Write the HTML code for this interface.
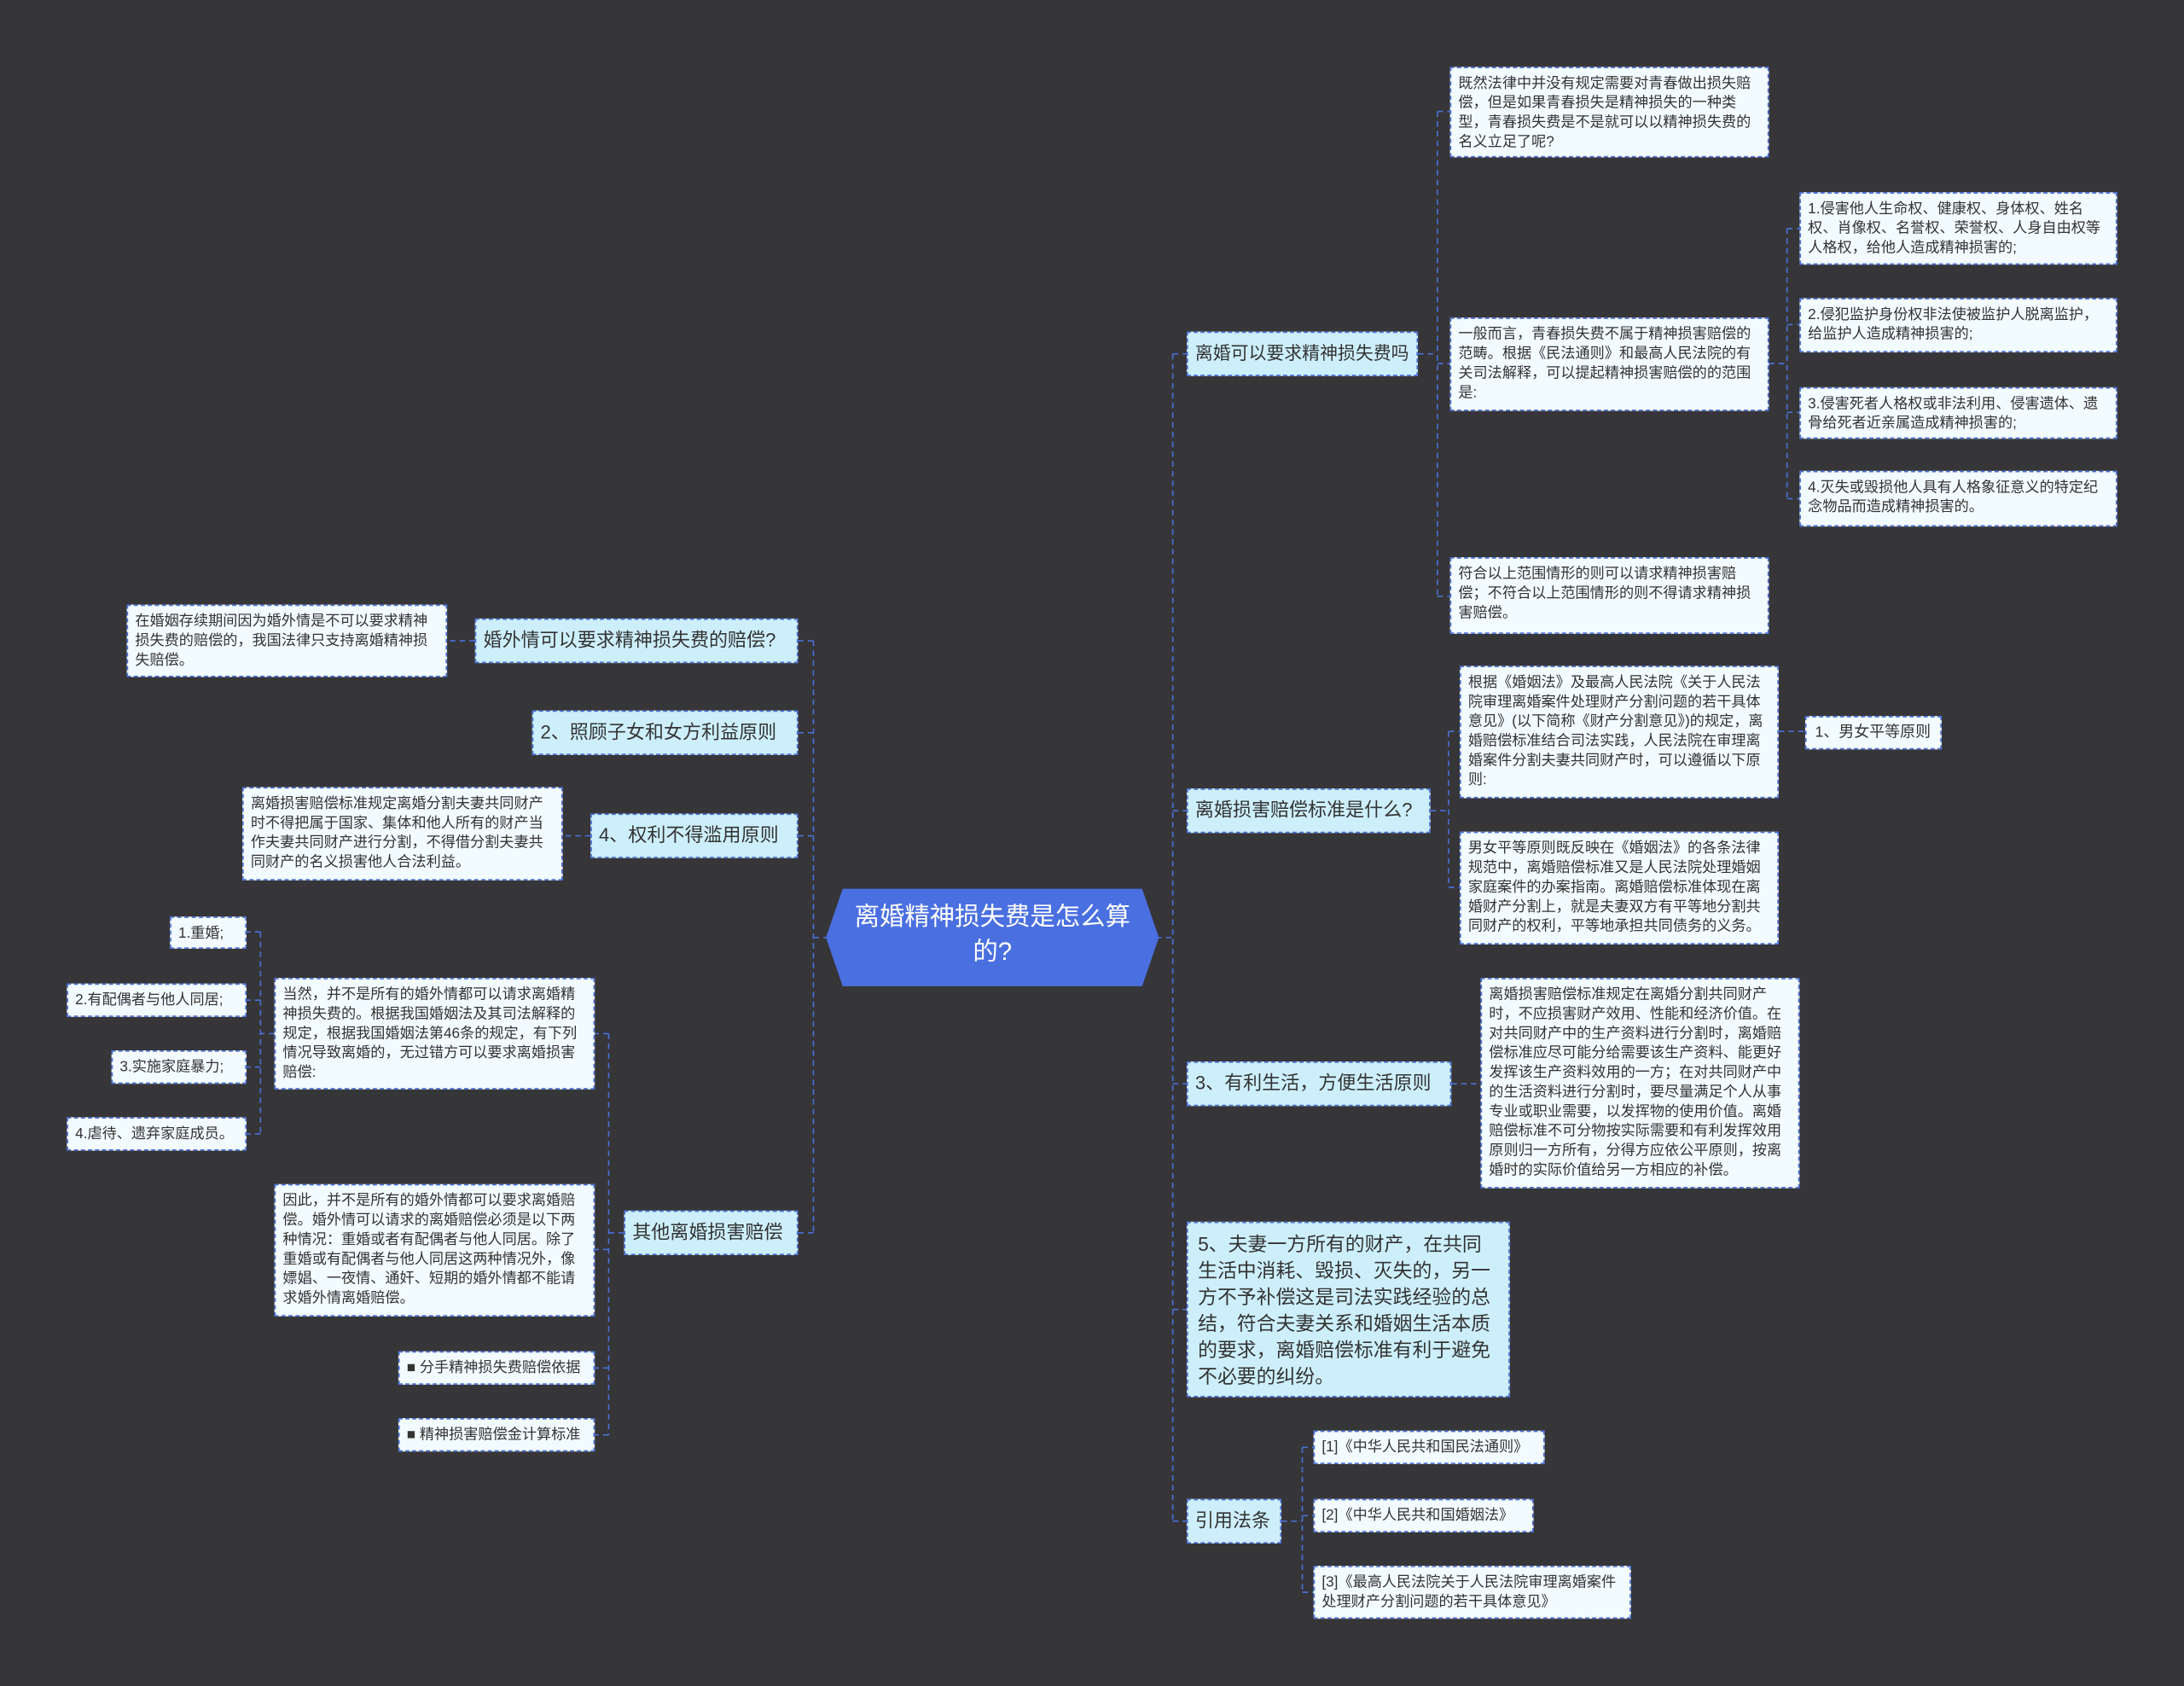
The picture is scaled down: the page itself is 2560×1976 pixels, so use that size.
<!DOCTYPE html>
<html><head><meta charset="utf-8"><style>
html,body{margin:0;padding:0;background:#363538;}
body{width:2560px;height:1976px;overflow:hidden;}
#w{position:absolute;left:0;top:0;width:1568px;height:1210px;transform:scale(1.632653);transform-origin:0 0;font-family:"Liberation Sans","Noto Sans CJK SC",sans-serif;}
.b{position:absolute;box-sizing:border-box;border:1px dashed #4a6fd8;color:#333;}
.l1{background:#cdeffb;font-size:13.5px;line-height:18px;padding:6px 5px;white-space:nowrap;overflow:hidden;}
.lf{background:#f2fbff;font-size:10.5px;line-height:14px;padding:4px 5px;}
svg{position:absolute;left:0;top:0;}
</style></head><body><div id="w">
<svg width="1568" height="1210"><g fill="none" stroke="#4a6fd8" stroke-width="1" stroke-dasharray="4,3">
<path d="M830 673H842M842 254V1092M842 254H852M842 582H852M842 778H852M842 940H852M842 1092H852"/>
<path d="M1018 254H1032M1032 80V428M1032 80H1041M1032 261H1041M1032 428H1041"/>
<path d="M1270 261H1283M1283 164V358M1283 164H1292M1283 233H1292M1283 296H1292M1283 358H1292"/>
<path d="M1027 582H1040M1040 525V637M1040 525H1048M1040 637H1048M1277 525H1296"/>
<path d="M1042 778H1063"/>
<path d="M920 1092H935M935 1039V1143M935 1039H943M935 1088H943M935 1143H943"/>
<path d="M595 673H584M584 460V885M584 460H573M584 526H573M584 600H573M584 885H573"/>
<path d="M341 460H321M424 600H404"/>
<path d="M448 885H437M437 742V1030M437 742H427M437 897H427M437 982H427M437 1030H427"/>
<path d="M197 742H187M187 669V814M187 669H177M187 718H177M187 766H177M187 814H177"/>
</g>
<polygon points="605,638 820,638 832,673 820,708 605,708 593,673" fill="#4a6fe0"/>
</svg>
<div style="position:absolute;left:600px;top:646px;width:225px;text-align:center;color:#fff;font-size:18px;line-height:25px;">离婚精神损失费是怎么算的?</div>

<div class="b l1" style="left:852px;top:238px;width:166px;height:32px;font-size:12.8px;">离婚可以要求精神损失费吗</div>
<div class="b l1" style="left:852px;top:566px;width:175px;height:32px;">离婚损害赔偿标准是什么?</div>
<div class="b l1" style="left:852px;top:762px;width:190px;height:32px;">3、有利生活，方便生活原则</div>
<div class="b l1" style="left:852px;top:877px;width:232px;height:126px;white-space:normal;line-height:19px;font-size:14px;padding:6px 7px;">5、夫妻一方所有的财产，在共同生活中消耗、毁损、灭失的，另一方不予补偿这是司法实践经验的总结，符合夫妻关系和婚姻生活本质的要求，离婚赔偿标准有利于避免不必要的纠纷。</div>
<div class="b l1" style="left:852px;top:1076px;width:68px;height:32px;">引用法条</div>

<div class="b lf" style="left:1041px;top:48px;width:229px;height:65px;">既然法律中并没有规定需要对青春做出损失赔偿，但是如果青春损失是精神损失的一种类型，青春损失费是不是就可以以精神损失费的名义立足了呢?</div>
<div class="b lf" style="left:1041px;top:228px;width:229px;height:67px;">一般而言，青春损失费不属于精神损害赔偿的范畴。根据《民法通则》和最高人民法院的有关司法解释，可以提起精神损害赔偿的的范围是:</div>
<div class="b lf" style="left:1041px;top:400px;width:229px;height:55px;">符合以上范围情形的则可以请求精神损害赔偿；不符合以上范围情形的则不得请求精神损害赔偿。</div>
<div class="b lf" style="left:1292px;top:138px;width:228px;height:52px;">1.侵害他人生命权、健康权、身体权、姓名权、肖像权、名誉权、荣誉权、人身自由权等人格权，给他人造成精神损害的;</div>
<div class="b lf" style="left:1292px;top:214px;width:228px;height:39px;">2.侵犯监护身份权非法使被监护人脱离监护，给监护人造成精神损害的;</div>
<div class="b lf" style="left:1292px;top:278px;width:228px;height:37px;">3.侵害死者人格权或非法利用、侵害遗体、遗骨给死者近亲属造成精神损害的;</div>
<div class="b lf" style="left:1292px;top:338px;width:228px;height:40px;">4.灭失或毁损他人具有人格象征意义的特定纪念物品而造成精神损害的。</div>
<div class="b lf" style="left:1048px;top:478px;width:229px;height:95px;">根据《婚姻法》及最高人民法院《关于人民法院审理离婚案件处理财产分割问题的若干具体意见》(以下简称《财产分割意见》)的规定，离婚赔偿标准结合司法实践，人民法院在审理离婚案件分割夫妻共同财产时，可以遵循以下原则:</div>
<div class="b lf" style="left:1048px;top:597px;width:229px;height:81px;">男女平等原则既反映在《婚姻法》的各条法律规范中，离婚赔偿标准又是人民法院处理婚姻家庭案件的办案指南。离婚赔偿标准体现在离婚财产分割上，就是夫妻双方有平等地分割共同财产的权利，平等地承担共同债务的义务。</div>
<div class="b lf" style="left:1296px;top:514px;width:98px;height:24px;font-size:11px;padding:4px 6px;">1、男女平等原则</div>
<div class="b lf" style="left:1063px;top:702px;width:229px;height:151px;">离婚损害赔偿标准规定在离婚分割共同财产时，不应损害财产效用、性能和经济价值。在对共同财产中的生产资料进行分割时，离婚赔偿标准应尽可能分给需要该生产资料、能更好发挥该生产资料效用的一方；在对共同财产中的生活资料进行分割时，要尽量满足个人从事专业或职业需要，以发挥物的使用价值。离婚赔偿标准不可分物按实际需要和有利发挥效用原则归一方所有，分得方应依公平原则，按离婚时的实际价值给另一方相应的补偿。</div>
<div class="b lf" style="left:943px;top:1027px;width:166px;height:24px;">[1]《中华人民共和国民法通则》</div>
<div class="b lf" style="left:943px;top:1076px;width:158px;height:24px;">[2]《中华人民共和国婚姻法》</div>
<div class="b lf" style="left:943px;top:1124px;width:228px;height:38px;">[3]《最高人民法院关于人民法院审理离婚案件处理财产分割问题的若干具体意见》</div>

<div class="b l1" style="left:341px;top:444px;width:232px;height:32px;">婚外情可以要求精神损失费的赔偿?</div>
<div class="b l1" style="left:382px;top:510px;width:191px;height:32px;">2、照顾子女和女方利益原则</div>
<div class="b l1" style="left:424px;top:584px;width:149px;height:32px;">4、权利不得滥用原则</div>
<div class="b l1" style="left:448px;top:869px;width:125px;height:32px;">其他离婚损害赔偿</div>
<div class="b lf" style="left:91px;top:434px;width:230px;height:52px;">在婚姻存续期间因为婚外情是不可以要求精神损失费的赔偿的，我国法律只支持离婚精神损失赔偿。</div>
<div class="b lf" style="left:174px;top:565px;width:230px;height:67px;">离婚损害赔偿标准规定离婚分割夫妻共同财产时不得把属于国家、集体和他人所有的财产当作夫妻共同财产进行分割，不得借分割夫妻共同财产的名义损害他人合法利益。</div>
<div class="b lf" style="left:197px;top:702px;width:230px;height:80px;">当然，并不是所有的婚外情都可以请求离婚精神损失费的。根据我国婚姻法及其司法解释的规定，根据我国婚姻法第46条的规定，有下列情况导致离婚的，无过错方可以要求离婚损害赔偿:</div>
<div class="b lf" style="left:197px;top:850px;width:230px;height:95px;">因此，并不是所有的婚外情都可以要求离婚赔偿。婚外情可以请求的离婚赔偿必须是以下两种情况：重婚或者有配偶者与他人同居。除了重婚或有配偶者与他人同居这两种情况外，像嫖娼、一夜情、通奸、短期的婚外情都不能请求婚外情离婚赔偿。</div>
<div class="b lf" style="left:286px;top:970px;width:141px;height:24px;">■ 分手精神损失费赔偿依据</div>
<div class="b lf" style="left:286px;top:1018px;width:141px;height:24px;">■ 精神损害赔偿金计算标准</div>
<div class="b lf" style="left:122px;top:658px;width:55px;height:23px;">1.重婚;</div>
<div class="b lf" style="left:48px;top:706px;width:129px;height:24px;">2.有配偶者与他人同居;</div>
<div class="b lf" style="left:80px;top:754px;width:97px;height:24px;">3.实施家庭暴力;</div>
<div class="b lf" style="left:48px;top:802px;width:129px;height:24px;">4.虐待、遗弃家庭成员。</div>
</div></body></html>
